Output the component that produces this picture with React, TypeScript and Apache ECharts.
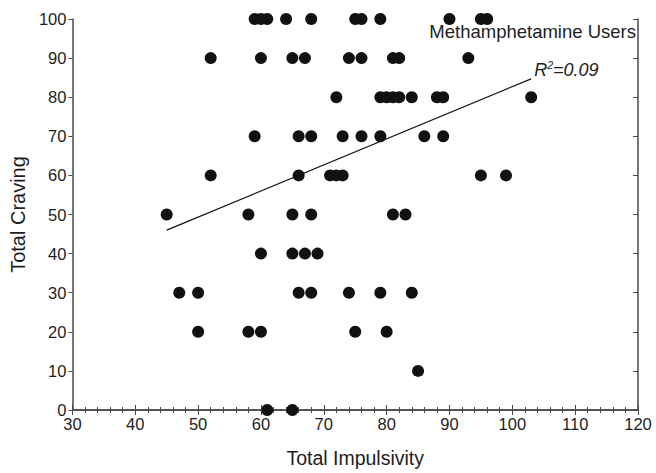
import React, { useEffect, useRef } from "react";
import * as echarts from "echarts";

// Total Impulsivity values of participants, grouped by their Total Craving score
const craving100 = [59, 60, 61, 64, 68, 75, 76, 79, 90, 95, 96];
const craving90 = [52, 60, 65, 67, 74, 76, 81, 82, 93];
const craving80 = [72, 79, 80, 81, 82, 84, 88, 89, 103];
const craving70 = [59, 66, 68, 73, 76, 79, 86, 89];
const craving60 = [52, 66, 71, 72, 73, 95, 99];
const craving50 = [45, 58, 65, 68, 81, 83];
const craving40 = [60, 65, 67, 69];
const craving30 = [47, 50, 66, 68, 74, 79, 84];
const craving20 = [50, 58, 60, 75, 80];
const craving10 = [85];
const craving0 = [61, 65];

const cravingLevels = [100, 90, 80, 70, 60, 50, 40, 30, 20, 10, 0];
const impulsivityByLevel = [
  craving100, craving90, craving80, craving70, craving60, craving50,
  craving40, craving30, craving20, craving10, craving0,
];

// Fitted regression line endpoints (impulsivity, craving)
const fitLine = [
  [45, 46],
  [103, 84.7],
];

const xTicks = [30, 40, 50, 60, 70, 80, 90, 100, 110, 120];
const yTicks = [0, 10, 20, 30, 40, 50, 60, 70, 80, 90, 100];

const groupLabel = "Methamphetamine Users";
const r2Label = "0.09";

export default function App() {
  const ref = useRef<HTMLDivElement>(null);

  useEffect(() => {
    if (!ref.current) return;
    const chart = echarts.init(ref.current, undefined, { renderer: "svg" });

    const points: number[][] = [];
    cravingLevels.forEach((lvl, i) => {
      impulsivityByLevel[i].forEach((x) => points.push([x, lvl]));
    });

    const font = "'Liberation Sans', Arial, Helvetica, sans-serif";
    const axisColor = "#4a4a4a";
    const textColor = "#1e1e1e";

    const baseX = {
      type: "value" as const,
      min: xTicks[0],
      max: xTicks[xTicks.length - 1],
      interval: 10,
      splitLine: { show: false },
      axisLine: { show: true, lineStyle: { color: axisColor, width: 1.5 } },
    };
    const baseY = {
      type: "value" as const,
      min: yTicks[0],
      max: yTicks[yTicks.length - 1],
      interval: 10,
      splitLine: { show: false },
      axisLine: { show: true, lineStyle: { color: axisColor, width: 1.5 } },
    };

    chart.setOption({
      animation: false,
      backgroundColor: "#ffffff",
      grid: { left: 71, right: 18, top: 19, bottom: 59, containLabel: false },
      xAxis: [
        {
          ...baseX,
          position: "bottom",
          name: "Total Impulsivity",
          nameLocation: "middle",
          nameGap: 38,
          nameTextStyle: { fontFamily: font, fontSize: 19.5, color: textColor },
          axisTick: { show: true, inside: true, length: 5, lineStyle: { color: axisColor } },
          minorTick: { show: true, splitNumber: 5, length: 3, lineStyle: { color: axisColor } },
          axisLabel: { fontFamily: font, fontSize: 16.5, color: textColor, margin: 5 },
        },
        {
          ...baseX,
          position: "top",
          axisTick: { show: true, inside: true, length: 5, lineStyle: { color: axisColor } },
          minorTick: { show: true, splitNumber: 5, length: 3, lineStyle: { color: axisColor } },
          axisLabel: { show: false },
        },
      ],
      yAxis: [
        {
          ...baseY,
          position: "left",
          name: "Total Craving",
          nameLocation: "middle",
          nameGap: 41,
          nameRotate: 90,
          nameTextStyle: { fontFamily: font, fontSize: 20, color: textColor },
          axisTick: { show: true, inside: false, length: 4, lineStyle: { color: axisColor } },
          axisLabel: { fontFamily: font, fontSize: 16.5, color: textColor, margin: 6 },
        },
        {
          ...baseY,
          position: "right",
          axisTick: { show: true, inside: true, length: 5, lineStyle: { color: axisColor } },
          axisLabel: { show: false },
        },
      ],
      series: [
        {
          type: "scatter",
          xAxisIndex: 0,
          yAxisIndex: 0,
          data: points,
          symbol: "circle",
          symbolSize: 12,
          itemStyle: { color: "#111111", opacity: 1 },
          clip: false,
          z: 3,
        },
        {
          type: "line",
          xAxisIndex: 0,
          yAxisIndex: 0,
          data: fitLine,
          showSymbol: false,
          symbol: "none",
          lineStyle: { color: "#111", width: 1.2 },
          z: 2,
          markPoint: {
            symbol: "circle",
            symbolSize: 0,
            data: [
              {
                coord: fitLine[1],
                label: {
                  show: true,
                  position: "right",
                  offset: [-2, -9],
                  formatter: "{a|R}{s|2}{a|=" + r2Label + "}",
                  rich: {
                    a: { fontFamily: font, fontSize: 18, fontStyle: "italic", color: textColor },
                    s: { fontFamily: font, fontSize: 10.5, fontStyle: "italic", color: textColor, verticalAlign: "top", padding: [0, 0, 9, 0] },
                  },
                },
              },
            ],
          },
        },
      ],
      graphic: [
        {
          type: "text",
          right: 20,
          top: 22,
          style: {
            text: groupLabel,
            font: "18.5px " + font,
            fill: textColor,
          },
        },
      ],
    });

    return () => chart.dispose();
  }, []);

  return (
    <div
      ref={ref}
      style={{ position: "fixed", left: 0, top: 0, width: 656, height: 473 }}
    />
  );
}
